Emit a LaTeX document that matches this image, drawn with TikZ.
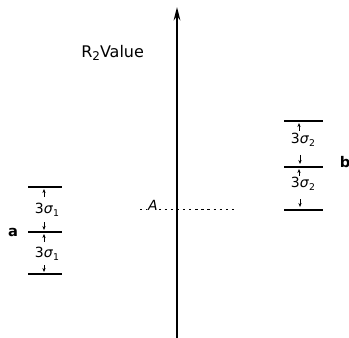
\documentclass[tikz,border=0pt]{standalone}
\usepackage{fontspec}
\setmainfont{DejaVu Sans}
\usetikzlibrary{arrows.meta}
\begin{document}
\begin{tikzpicture}[x=0.75pt,y=-0.75pt,
  level/.style={line width=1.6pt},
  small/.style={-{Stealth[length=3pt,width=2.4pt]},line width=0.6pt},
  lbl/.style={font=\fontsize{10.5}{12}\selectfont,inner sep=0pt},
  lab/.style={font=\bfseries\fontsize{11}{12}\selectfont,inner sep=0pt}]
\useasboundingbox (0,0) rectangle (349,338);
% axis
\coordinate (axb) at (177,338);
\coordinate (axt) at (177,7);
\draw[line width=1.8pt,-{Stealth[length=10pt,width=5pt]}] (axb) -- (axt);
\node[lbl,anchor=west,font=\fontsize{12}{13}\selectfont] (r2) at (81,53) {R\raisebox{-2.5pt}{\fontsize{9}{10}\selectfont 2}Value};
% dashed A line
\coordinate (dl) at (140,209);
\coordinate (dr) at (236,209);
\draw[dash pattern=on 1.8pt off 2.8pt,line width=0.6pt] (dl) -- (dr);
\node[fill=white,inner sep=1pt,font=\itshape\fontsize{10.5}{12}\selectfont] (A) at (153,205) {A};
% scale a
\coordinate (a1l) at (28,187); \coordinate (a1r) at (62,187);
\coordinate (a2l) at (28,232); \coordinate (a2r) at (62,232);
\coordinate (a3l) at (28,274); \coordinate (a3r) at (62,274);
\draw[level] (a1l) -- (a1r);
\draw[level] (a2l) -- (a2r);
\draw[level] (a3l) -- (a3r);
\node[lbl] (s1) at (47,210) {3\textit{σ}\raisebox{-2pt}{\fontsize{7}{8}\selectfont 1}};
\node[lbl] (s2) at (47,254) {3\textit{σ}\raisebox{-2pt}{\fontsize{7}{8}\selectfont 1}};
\draw[small] (44,197) -- (44,189);
\draw[small] (44,222) -- (44,230);
\draw[small] (44,242) -- (44,234);
\draw[small] (44,265) -- (44,272);
\node[lab] (a) at (13,232) {a};
% scale b
\coordinate (b1l) at (284,121); \coordinate (b1r) at (323,121);
\coordinate (b2l) at (284,167); \coordinate (b2r) at (323,167);
\coordinate (b3l) at (284,210); \coordinate (b3r) at (323,210);
\draw[level] (b1l) -- (b1r);
\draw[level] (b2l) -- (b2r);
\draw[level] (b3l) -- (b3r);
\node[lbl] (t1) at (303,140) {3\textit{σ}\raisebox{-2pt}{\fontsize{7}{8}\selectfont 2}};
\node[lbl] (t2) at (303,184) {3\textit{σ}\raisebox{-2pt}{\fontsize{7}{8}\selectfont 2}};
\draw[small] (299,131) -- (299,123);
\draw[small] (300,155) -- (300,164);
\draw[small] (299,176) -- (299,169);
\draw[small] (300,199) -- (300,207);
\node[lab] (b) at (345,162) {b};
\end{tikzpicture}
\end{document}
